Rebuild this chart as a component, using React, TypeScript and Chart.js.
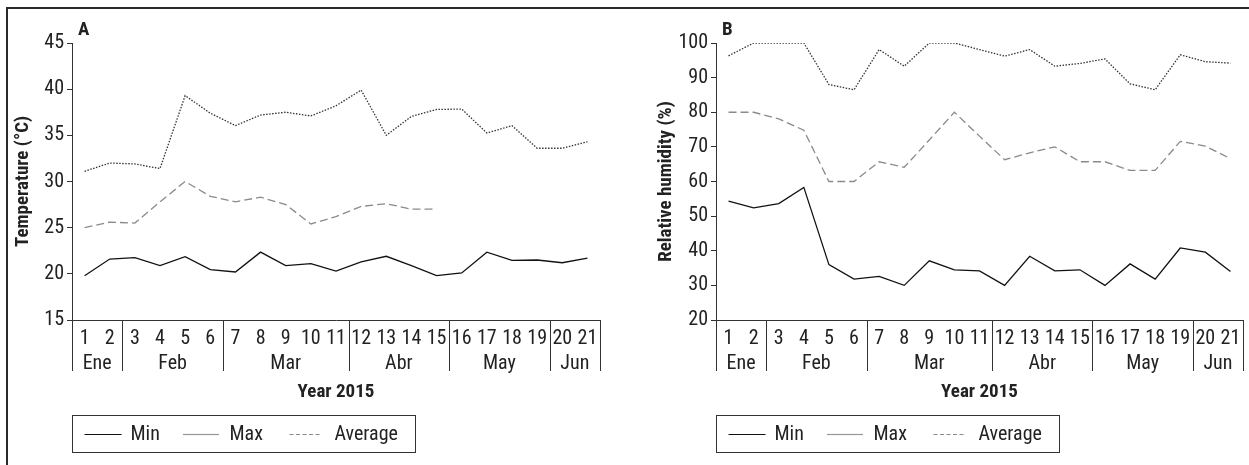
import React, { useEffect, useRef } from "react";
import { Chart, registerables } from "chart.js";

Chart.register(...registerables);

// ---------- data ----------
const days = ["1","2","3","4","5","6","7","8","9","10","11","12","13","14","15","16","17","18","19","20","21"];
const months = ["Ene", "Feb", "Mar", "Abr", "May", "Jun"];
const monthDayCounts = [2, 4, 5, 4, 4, 2];

const tempMin = [19.8, 21.6, 21.75, 20.9, 21.85, 20.45, 20.2, 22.35, 20.9, 21.1, 20.3, 21.3, 21.9, 20.9, 19.8, 20.1, 22.35, 21.45, 21.5, 21.2, 21.7];
const tempMax = [31.1, 32.0, 31.9, 31.4, 39.3, 37.4, 36.05, 37.2, 37.5, 37.1, 38.2, 39.9, 35.0, 37.05, 37.8, 37.85, 35.25, 36.05, 33.6, 33.6, 34.3];
const tempAvg = [25.0, 25.6, 25.5, 27.8, 30.0, 28.4, 27.8, 28.3, 27.5, 25.4, 26.2, 27.3, 27.6, 27.0, 27.0, null, null, null, null, null, null];

const humMin = [54.3, 52.4, 53.6, 58.3, 36.0, 31.8, 32.6, 30.0, 37.1, 34.5, 34.2, 30.0, 38.4, 34.2, 34.5, 30.0, 36.2, 31.8, 40.8, 39.6, 34.0];
const humMax = [96.3, 100, 100, 100, 88.0, 86.5, 98.1, 93.3, 100, 100, 98.1, 96.2, 98.1, 93.3, 94.1, 95.4, 88.2, 86.5, 96.6, 94.6, 94.2];
const humAvg = [80, 80, 78.1, 74.8, 60, 60, 65.7, 64.1, 72, 80, 73.1, 66.3, 68.3, 70, 65.7, 65.7, 63.2, 63.2, 71.6, 70.2, 66.6];

const seriesNames = ["Min", "Max", "Average"];
const xTitle = "Year 2015";

// ---------- styles ----------
const FONT = '"Liberation Sans Narrow", "Arial Narrow", "Roboto Condensed", "DejaVu Sans Condensed", sans-serif';
const TEXT = "#222";
const AXIS = "#333";
const MIN_COLOR = "#111";
const MAX_COLOR = "#333";
const AVG_COLOR = "#8a8a8a";
const MAX_DASH = [1.5, 1.5];
const AVG_DASH = [8, 4];

Chart.defaults.font.family = FONT;
Chart.defaults.color = TEXT;

type PanelProps = {
  left: number;
  width: number;
  letter: string;
  yTitle: string;
  yMin: number;
  yMax: number;
  step: number;
  yAxisWidth: number;
  rightPad: number;
  yTitlePad: number;
  minData: (number | null)[];
  maxData: (number | null)[];
  avgData: (number | null)[];
};

const decorPlugin = (letter: string) => ({
  id: "decor",
  afterDraw(chart: any) {
    const ctx = chart.ctx as CanvasRenderingContext2D;
    const xs = chart.scales.x;
    const area = chart.chartArea;
    const px = (i: number) => xs.getPixelForValue(i);
    const n = days.length;
    const boundary = (b: number) => {
      if (b <= 0) return area.left;
      if (b >= n) return area.right;
      return (px(b - 1) + px(b)) / 2;
    };
    ctx.save();
    // month separators + labels
    ctx.strokeStyle = AXIS;
    ctx.lineWidth = 1;
    let start = 0;
    const bounds = [0];
    monthDayCounts.forEach((c) => {
      start += c;
      bounds.push(start);
    });
    bounds.forEach((b) => {
      const x = Math.round(boundary(b)) + 0.5;
      ctx.beginPath();
      ctx.moveTo(x, area.bottom);
      ctx.lineTo(x, area.bottom + 51);
      ctx.stroke();
    });
    ctx.fillStyle = TEXT;
    ctx.font = `20px ${FONT}`;
    ctx.textAlign = "center";
    ctx.textBaseline = "middle";
    months.forEach((m, i) => {
      const s = bounds[i];
      const e = bounds[i + 1] - 1;
      const cx = (px(s) + px(e)) / 2;
      ctx.fillText(m, cx, area.bottom + 44);
    });
    // panel letter
    ctx.font = `bold 19px ${FONT}`;
    ctx.textAlign = "left";
    ctx.fillText(letter, area.left + 6, 30);
    // legend
    const lx = Math.round(area.left) + 0.5;
    const ly = 415.5;
    const lw = 343;
    const lh = 37;
    ctx.strokeStyle = AXIS;
    ctx.lineWidth = 1;
    ctx.setLineDash([]);
    ctx.strokeRect(lx, ly, lw, lh);
    const cy = ly + lh / 2;
    const items = [
      { name: seriesNames[0], color: MIN_COLOR, dash: [] as number[], x1: 12, x2: 49, tx: 58 },
      { name: seriesNames[1], color: MAX_COLOR, dash: [1, 1], x1: 111, x2: 147, tx: 157 },
      { name: seriesNames[2], color: AVG_COLOR, dash: [4, 2.5], x1: 217, x2: 247, tx: 262 },
    ];
    ctx.font = `20px ${FONT}`;
    items.forEach((it) => {
      ctx.strokeStyle = it.color;
      ctx.lineWidth = 1.2;
      ctx.setLineDash(it.dash);
      ctx.beginPath();
      ctx.moveTo(lx + it.x1, Math.round(cy) + 0.5);
      ctx.lineTo(lx + it.x2, Math.round(cy) + 0.5);
      ctx.stroke();
      ctx.setLineDash([]);
      ctx.fillStyle = TEXT;
      ctx.textAlign = "left";
      ctx.fillText(it.name, lx + it.tx, cy + 1);
    });
    ctx.restore();
  },
});

function Panel(p: PanelProps) {
  const ref = useRef<HTMLCanvasElement | null>(null);
  useEffect(() => {
    if (!ref.current) return;
    const chart = new Chart(ref.current, {
      type: "line",
      data: {
        labels: days,
        datasets: [
          { label: seriesNames[0], data: p.minData, borderColor: MIN_COLOR, borderWidth: 1.3, pointRadius: 0, tension: 0 },
          { label: seriesNames[1], data: p.maxData, borderColor: MAX_COLOR, borderWidth: 1.3, borderDash: MAX_DASH, pointRadius: 0, tension: 0 },
          { label: seriesNames[2], data: p.avgData, borderColor: AVG_COLOR, borderWidth: 1.3, borderDash: AVG_DASH, pointRadius: 0, tension: 0, spanGaps: false },
        ],
      },
      options: {
        responsive: false,
        animation: false,
        layout: { padding: { left: 0, right: p.rightPad, top: 43, bottom: 0 } },
        plugins: { legend: { display: false }, tooltip: { enabled: false }, title: { display: false } },
        scales: {
          x: {
            type: "category",
            offset: true,
            grid: { display: false, drawTicks: false },
            border: { display: true, color: AXIS, width: 1 },
            ticks: { autoSkip: false, maxRotation: 0, padding: 7, font: { size: 20 }, color: TEXT },
            title: { display: true, text: xTitle, font: { size: 19, weight: "bold" }, color: TEXT, padding: { top: 0, bottom: 61.5 } },
            afterFit: (s: any) => { s.height = 145; },
          },
          y: {
            min: p.yMin,
            max: p.yMax,
            grid: { drawOnChartArea: false, drawTicks: true, tickLength: 5, color: AXIS },
            border: { display: true, color: AXIS, width: 1 },
            ticks: { stepSize: p.step, padding: 3, font: { size: 20 }, color: TEXT },
            title: { display: true, text: p.yTitle, font: { size: 19, weight: "bold" }, color: TEXT, padding: { top: p.yTitlePad, bottom: 0 } },
            afterFit: (s: any) => { s.width = p.yAxisWidth; },
          },
        },
      },
      plugins: [decorPlugin(p.letter)],
    } as any);
    return () => chart.destroy();
  }, []);
  return (
    <canvas
      ref={ref}
      width={p.width}
      height={465}
      style={{ position: "absolute", left: p.left, top: 0, width: p.width, height: 465 }}
    />
  );
}

export default function App() {
  return (
    <div style={{ position: "absolute", left: 0, top: 0, width: 1249, height: 465, background: "#fff", overflow: "hidden" }}>
      <div style={{ position: "absolute", left: 6, top: 7, width: 1243, height: 2, background: "#2a2a2a" }} />
      <div style={{ position: "absolute", left: 6, top: 7, width: 2, height: 458, background: "#2a2a2a" }} />
      <Panel
        left={0}
        width={620}
        letter="A"
        yTitle="Temperature (°C)"
        yMin={15}
        yMax={45}
        step={5}
        yAxisWidth={72}
        rightPad={20}
        yTitlePad={11.8}
        minData={tempMin}
        maxData={tempMax}
        avgData={tempAvg}
      />
      <Panel
        left={620}
        width={629}
        letter="B"
        yTitle="Relative humidity (%)"
        yMin={20}
        yMax={100}
        step={10}
        yAxisWidth={96}
        rightPad={6}
        yTitlePad={34.8}
        minData={humMin}
        maxData={humMax}
        avgData={humAvg}
      />
    </div>
  );
}
